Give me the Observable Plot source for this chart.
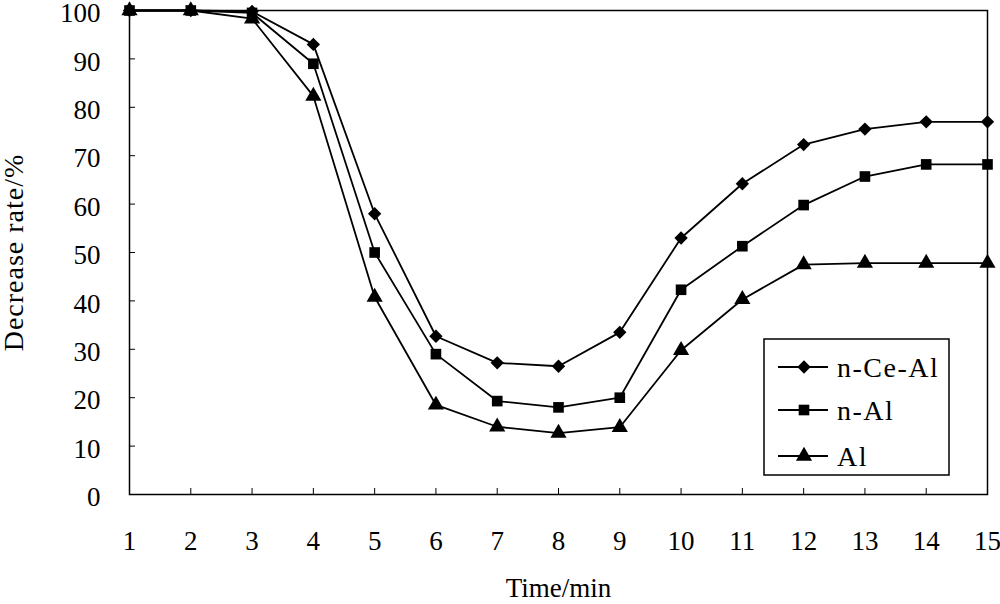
<!DOCTYPE html>
<html>
<head>
<meta charset="utf-8">
<script src="https://cdn.jsdelivr.net/npm/d3@7"></script>
<script src="https://cdn.jsdelivr.net/npm/@observablehq/plot@0.6"></script>
<style>
  html, body { margin: 0; padding: 0; background: #fff; }
  #wrap { position: relative; width: 1000px; height: 604px; }
  #legend { position: absolute; left: 0; top: 0; }
</style>
</head>
<body>
<div id="wrap"></div>
<script>
const time = [1, 2, 3, 4, 5, 6, 7, 8, 9, 10, 11, 12, 13, 14, 15];
const nCeAl = [100, 100, 99.8, 93, 58, 32.7, 27.2, 26.5, 33.5, 53, 64.2, 72.3, 75.5, 77, 77];
const nAl   = [100, 100, 99.5, 89, 50, 29, 19.3, 18, 20, 42.3, 51.3, 59.8, 65.7, 68.2, 68.2];
const al    = [100, 100, 98.3, 82.3, 40.8, 18.5, 14, 12.7, 13.9, 29.8, 40.3, 47.5, 47.8, 47.8, 47.8];
const seriesNames = ["n-Ce-Al", "n-Al", "Al"];
const seriesSymbols = ["diamond2", "square", "triangle"];
const yTicks = [0, 10, 20, 30, 40, 50, 60, 70, 80, 90, 100];

const seriesValues = [nCeAl, nAl, al];
const rows = [];
seriesNames.forEach((name, i) => {
  time.forEach((t, j) => rows.push({series: name, time: t, value: seriesValues[i][j], symbol: seriesSymbols[i]}));
});

const font = "'Liberation Serif', 'Times New Roman', serif";

const chart = Plot.plot({
  width: 1000,
  height: 604,
  marginLeft: 129,
  marginRight: 13,
  marginTop: 10,
  marginBottom: 110,
  style: {fontFamily: font, fontSize: "27px", color: "#000", background: "#fff", overflow: "visible"},
  x: {domain: [1, 15], ticks: time},
  y: {domain: [0, 100], ticks: yTicks},
  symbol: {type: "identity"},
  marks: [
    Plot.frame({stroke: "#000", strokeWidth: 1.5}),
    Plot.axisX({ticks: time, tickSize: -6, tickPadding: 42, tickFormat: d => String(d), fontSize: 27,
      label: "Time/min", labelAnchor: "center", labelOffset: 102, labelArrow: "none"}),
    Plot.axisY({ticks: yTicks, tickSize: -6, tickFormat: () => "", label: null}),
    Plot.axisY({ticks: yTicks, tickSize: 0, tickPadding: 29, dy: 3, tickFormat: d => String(d), fontSize: 27,
      label: "Decrease rate/%", labelAnchor: "center", labelOffset: 126, labelArrow: "none"}),
    Plot.line(rows, {x: "time", y: "value", z: "series", stroke: "#000", strokeWidth: 1.8}),
    Plot.dot(rows, {x: "time", y: "value", symbol: "symbol", r: 6, fill: "#000", stroke: "none"})
  ]
});

document.getElementById("wrap").appendChild(chart);

d3.select(chart).selectAll('g[aria-label="y-axis label"] text')
  .style("font-size", "28px").style("letter-spacing", "1px");

// Legend drawn as SVG overlay
const leg = d3.select("#wrap").append("svg")
  .attr("id", "legend").attr("width", 1000).attr("height", 604)
  .style("font-family", font).style("font-size", "28px");
leg.append("rect").attr("x", 764).attr("y", 339).attr("width", 185).attr("height", 136)
  .attr("fill", "#fff").attr("stroke", "#000").attr("stroke-width", 1.5);
const rowY = [367, 410, 456];
seriesNames.forEach((name, i) => {
  const y = rowY[i];
  leg.append("line").attr("x1", 778).attr("x2", 828).attr("y1", y).attr("y2", y)
    .attr("stroke", "#000").attr("stroke-width", 1.8);
  const sym = i === 0 ? d3.symbolDiamond2 : i === 1 ? d3.symbolSquare : d3.symbolTriangle;
  leg.append("path").attr("d", d3.symbol(sym, 36 * Math.PI)())
    .attr("transform", `translate(804,${y})`).attr("fill", "#000");
  leg.append("text").attr("x", 837).attr("y", y).attr("dy", "0.35em").attr("fill", "#000")
    .style("letter-spacing", "1.5px").text(name);
});
</script>
</body>
</html>
